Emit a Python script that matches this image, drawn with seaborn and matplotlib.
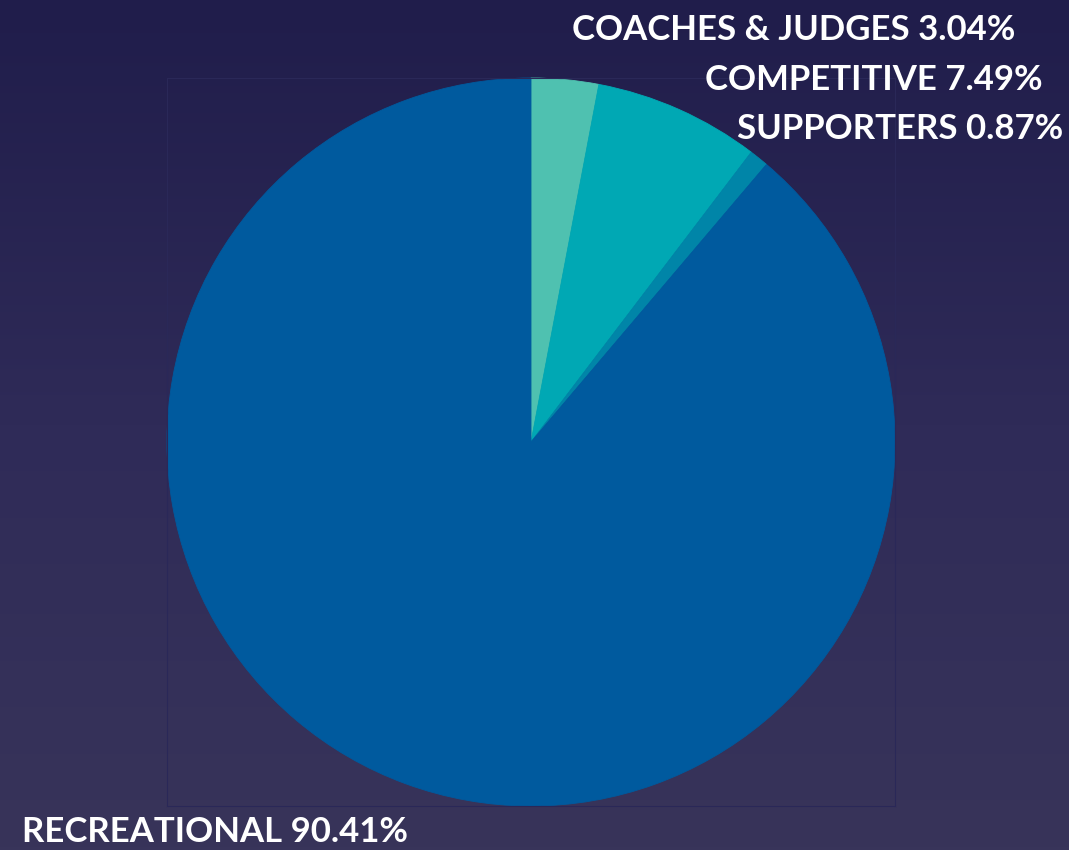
import numpy as np
import matplotlib
matplotlib.use("Agg")
import matplotlib.pyplot as plt
import seaborn as sns
from matplotlib.colors import LinearSegmentedColormap

# data
groups = ["COACHES & JUDGES", "COMPETITIVE", "SUPPORTERS", "RECREATIONAL"]
shares = [3.04, 7.49, 0.87, 90.41]
slice_colors = ["#4fc1b0", "#00a8b4", "#0085a8", "#005a9e"]

sns.set_theme(style="white")
plt.rcParams["font.family"] = ["Lato", "DejaVu Sans"]

W, H = 1069, 850
fig = plt.figure(figsize=(W / 100, H / 100), dpi=100)

# background gradient (dark navy)
bg = fig.add_axes([0, 0, 1, 1], zorder=-5)
cmap = LinearSegmentedColormap.from_list("bg", ["#201d4b", "#2f2b58", "#38345a"])
grad = np.linspace(0, 1, 256).reshape(-1, 1)
bg.imshow(grad, aspect="auto", cmap=cmap, extent=[0, 1, 0, 1])
bg.set_axis_off()

ax = fig.add_axes([167 / W, 1 - 806 / H, 728 / W, 728 / H])
ax.patch.set_alpha(0)
wedges, _ = ax.pie(shares, colors=sns.color_palette(slice_colors), startangle=90,
                   counterclock=False, radius=1, frame=True,
                   wedgeprops=dict(linewidth=0.6))
for w in wedges:
    w.set_edgecolor(w.get_facecolor())
ax.set_xlim(-1, 1)
ax.set_ylim(-1, 1)
ax.set_xticks([])
ax.set_yticks([])
for s in ax.spines.values():
    s.set_color("#2a2858")
    s.set_linewidth(0.8)

# labels
label_pos = [(1015, 30, "right"), (1043, 80, "right"), (1063, 129, "right"), (22, 832, "left")]
for (g, v), (x, y, ha) in zip(zip(groups, shares), label_pos):
    fig.text(x / W, 1 - y / H, f"{g} {v:.2f}%", ha=ha, va="center",
             color="white", fontsize=25, fontweight="bold")

fig.savefig("out.png", dpi=100)
